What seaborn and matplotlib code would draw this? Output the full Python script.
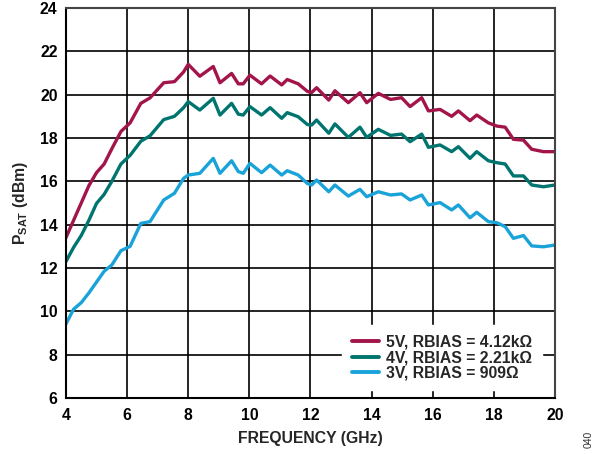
import numpy as np
import pandas as pd
import seaborn as sns
import matplotlib
matplotlib.use("Agg")
import matplotlib.pyplot as plt

freq = [4.0, 4.25, 4.5, 4.75, 5.0, 5.25, 5.5, 5.8, 6.1, 6.45, 6.75, 7.2, 7.55, 7.85, 8.0,
        8.38, 8.82, 9.04, 9.42, 9.64, 9.8, 10.02, 10.4, 10.68, 11.06, 11.24, 11.6, 11.9,
        12.04, 12.2, 12.6, 12.8, 13.24, 13.62, 13.84, 14.22, 14.62, 14.98, 15.26, 15.64,
        15.86, 16.24, 16.62, 16.84, 17.22, 17.44, 17.82, 18.1, 18.37, 18.64, 18.97, 19.24,
        19.62, 20.0]

psat_5v = [13.4, 14.2, 15.0, 15.8, 16.4, 16.8, 17.5, 18.3, 18.7, 19.6, 19.85, 20.55, 20.6, 21.05, 21.4,
           20.85, 21.3, 20.55, 20.98, 20.5, 20.5, 20.9, 20.5, 20.86, 20.45, 20.7, 20.5, 20.15,
           20.1, 20.32, 19.75, 20.18, 19.63, 20.09, 19.63, 20.06, 19.78, 19.86, 19.45, 19.86,
           19.25, 19.32, 19.0, 19.25, 18.8, 19.06, 18.7, 18.55, 18.5, 17.94, 17.9, 17.48,
           17.37, 17.37]

psat_4v = [12.3, 12.95, 13.5, 14.2, 14.98, 15.4, 16.0, 16.8, 17.2, 17.85, 18.1, 18.85, 19.0, 19.4, 19.68,
           19.29, 19.83, 19.06, 19.6, 19.1, 19.06, 19.45, 19.06, 19.4, 18.91, 19.17, 18.98, 18.62,
           18.6, 18.83, 18.22, 18.65, 18.03, 18.5, 18.03, 18.4, 18.12, 18.18, 17.83, 18.18,
           17.57, 17.68, 17.37, 17.6, 17.06, 17.37, 16.95, 16.86, 16.8, 16.25, 16.25, 15.83,
           15.75, 15.83]

psat_3v = [9.42, 10.1, 10.4, 10.85, 11.35, 11.85, 12.14, 12.8, 13.0, 14.06, 14.14, 15.14, 15.45, 16.14, 16.29,
           16.37, 17.06, 16.37, 16.95, 16.45, 16.37, 16.83, 16.4, 16.75, 16.29, 16.49, 16.29, 15.9,
           15.83, 16.06, 15.52, 15.83, 15.32, 15.63, 15.29, 15.52, 15.37, 15.42, 15.14, 15.37,
           14.91, 15.02, 14.68, 14.91, 14.32, 14.57, 14.14, 14.09, 13.91, 13.37, 13.5, 13.02,
           12.98, 13.06]

labels = ["5V, RBIAS = 4.12kΩ", "4V, RBIAS = 2.21kΩ", "3V, RBIAS = 909Ω"]
colors = ["#a3154a", "#00756f", "#19a3d9"]
x_ticks = [4, 6, 8, 10, 12, 14, 16, 18, 20]
y_ticks = [6, 8, 10, 12, 14, 16, 18, 20, 22, 24]

df = pd.concat([
    pd.DataFrame({"freq": freq, "psat": vals, "series": lab})
    for vals, lab in zip([psat_5v, psat_4v, psat_3v], labels)
], ignore_index=True)

sns.set_theme(style="white")
plt.rcParams["font.family"] = ["Liberation Sans", "DejaVu Sans"]
plt.rcParams["font.weight"] = "bold"
plt.rcParams["mathtext.fontset"] = "custom"
plt.rcParams["mathtext.rm"] = "Liberation Sans:bold"
plt.rcParams["mathtext.bf"] = "Liberation Sans:bold"
plt.rcParams["mathtext.it"] = "Liberation Sans:bold"

FS = 11.3

fig = plt.figure(figsize=(6.05, 4.54), dpi=100)
ax = fig.add_axes([0.109, 0.1233, 0.8083, 0.8591])

sns.lineplot(data=df, x="freq", y="psat", hue="series", hue_order=labels,
             palette=colors, linewidth=2.4, ax=ax, sort=False, estimator=None)

ax.set_xlim(4, 20)
ax.set_ylim(6, 24)
ax.set_xticks(x_ticks)
ax.set_yticks(y_ticks)
ax.set_xticklabels([str(t) for t in x_ticks], fontsize=FS, fontweight="bold")
ax.set_yticklabels([str(t) for t in y_ticks], fontsize=FS, fontweight="bold")
ax.tick_params(axis="x", length=0, pad=7, colors="black")
ax.tick_params(axis="y", length=0, pad=6, colors="black")
ax.grid(True, color="black", linewidth=1.2)
ax.set_axisbelow(True)
for s in ax.spines.values():
    s.set_color("black")
    s.set_linewidth(1.5)
ax.spines["top"].set_color("#444444")
ax.spines["right"].set_color("#444444")

ax.set_xlabel("FREQUENCY (GHz)", fontsize=FS, fontweight="bold", labelpad=6)
ax.set_ylabel(r"P$_{\mathrm{SAT}}$ (dBm)", fontsize=FS, fontweight="bold", labelpad=7)

leg = ax.legend(loc="lower right", bbox_to_anchor=(0.973, 0.02), frameon=True,
                fontsize=FS, handlelength=1.75, handletextpad=0.45,
                labelspacing=0.04, borderpad=0.6, borderaxespad=0.0)
leg.get_frame().set_facecolor("white")
leg.get_frame().set_edgecolor("white")
leg.get_frame().set_alpha(1.0)
leg.get_frame().set_boxstyle("square", pad=0)
for t in leg.get_texts():
    t.set_fontweight("bold")
for h in leg.get_lines():
    h.set_linewidth(2.8)

fig.text(0.973, 0.013, "040", rotation=90, fontsize=7.5, color="#333333",
         fontweight="normal", ha="center", va="bottom")

fig.savefig("out.png", dpi=100)
